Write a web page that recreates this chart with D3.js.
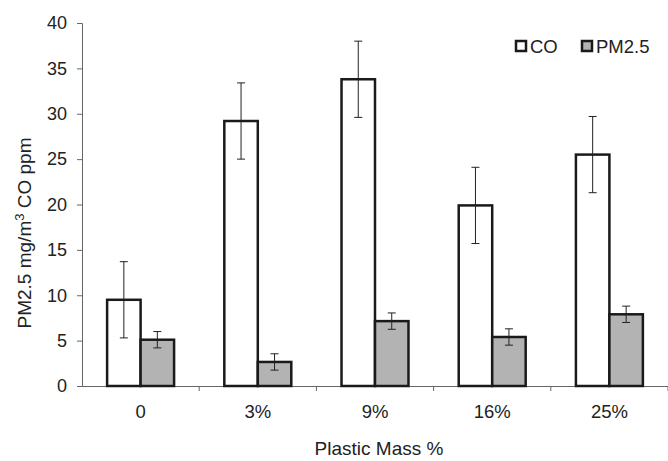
<!DOCTYPE html>
<html lang="en">
<head>
  <meta charset="UTF-8">
  <title>Plastic Mass</title>
  <style>
    html, body { margin: 0; background: #fff; }
    svg text { font-family: "Liberation Sans", Arial, sans-serif; fill: #222; }
  </style>
</head>
<body>
  <div id="main"></div>
  <script src="https://cdn.jsdelivr.net/npm/d3@7/dist/d3.min.js"></script>
  <script>
    // data
    const categories = ['0', '3%', '9%', '16%', '25%']
    const seriesNames = ['CO', 'PM2.5']
    const coValues = [9.5, 29.2, 33.8, 19.9, 25.5]
    const coErrors = [4.2, 4.2, 4.2, 4.2, 4.2]
    const pmValues = [5.1, 2.65, 7.15, 5.4, 7.9]
    const pmErrors = [0.9, 0.9, 0.9, 0.9, 0.9]
    const yTicks = [0, 5, 10, 15, 20, 25, 30, 35, 40]

    const width = 668, height = 461
    const margin = { top: 23, right: 0, bottom: 75, left: 82 }
    const fills = ['#ffffff', '#b3b3b3']

    const svg = d3.select('#main').append('svg')
      .attr('width', width).attr('height', height)

    const x = d3.scaleBand().domain(categories)
      .range([margin.left, width - margin.right])
    const inner = d3.scaleBand().domain(seriesNames)
      .range([0, x.bandwidth()]).paddingOuter(0.75).paddingInner(0)
    const y = d3.scaleLinear().domain([0, 40])
      .range([height - margin.bottom, margin.top])

    // y axis
    const yAxis = svg.append('g')
      .attr('transform', `translate(${margin.left},0)`)
      .call(d3.axisLeft(y).tickValues(yTicks).tickSize(5).tickPadding(10))
    yAxis.select('.domain').attr('stroke', '#666')
    yAxis.selectAll('.tick line').attr('stroke', '#666')
    yAxis.selectAll('text').style('font-size', '18px')

    // x axis, ticks between categories
    const xAxis = svg.append('g')
      .attr('transform', `translate(0,${y(0)})`)
      .call(d3.axisBottom(x).tickSize(0).tickPadding(0))
    xAxis.select('.domain').attr('stroke', '#666')
    xAxis.selectAll('text')
      .attr('dy', null).attr('y', 32)
      .style('font-size', '18.5px')
    xAxis.selectAll('.sep')
      .data(categories)
      .join('line')
      .attr('class', 'sep')
      .attr('x1', d => x(d) + x.bandwidth()).attr('x2', d => x(d) + x.bandwidth())
      .attr('y1', 0).attr('y2', 5)
      .attr('stroke', '#666')

    const rows = categories.map((c, i) => ({
      cat: c,
      vals: [
        { s: 'CO', v: coValues[i], e: coErrors[i], k: 0 },
        { s: 'PM2.5', v: pmValues[i], e: pmErrors[i], k: 1 }
      ]
    }))

    const groups = svg.append('g').selectAll('g')
      .data(rows)
      .join('g')
      .attr('transform', d => `translate(${x(d.cat)},0)`)

    groups.selectAll('rect')
      .data(d => d.vals)
      .join('rect')
      .attr('x', d => inner(d.s))
      .attr('y', d => y(d.v))
      .attr('width', inner.bandwidth())
      .attr('height', d => y(0) - y(d.v))
      .attr('fill', d => fills[d.k])
      .attr('stroke', '#1a1a1a')
      .attr('stroke-width', 2.5)

    // error bars
    const err = groups.selectAll('g.err')
      .data(d => d.vals)
      .join('g')
      .attr('class', 'err')
      .attr('stroke', '#222')
      .attr('stroke-width', 1)
    err.append('line')
      .attr('x1', d => inner(d.s) + inner.bandwidth() / 2)
      .attr('x2', d => inner(d.s) + inner.bandwidth() / 2)
      .attr('y1', d => y(d.v + d.e)).attr('y2', d => y(d.v - d.e))
    err.selectAll('line.cap')
      .data(d => [d.v + d.e, d.v - d.e].map(v => ({ cx: inner(d.s) + inner.bandwidth() / 2, v })))
      .join('line')
      .attr('class', 'cap')
      .attr('x1', d => d.cx - 4).attr('x2', d => d.cx + 4)
      .attr('y1', d => y(d.v)).attr('y2', d => y(d.v))

    // legend
    const legendX = [515, 581]
    const legend = svg.append('g').selectAll('g')
      .data(seriesNames)
      .join('g')
      .attr('transform', (d, i) => `translate(${legendX[i]},40)`)
    legend.append('rect')
      .attr('x', 1).attr('y', 1).attr('width', 10).attr('height', 10)
      .attr('fill', (d, i) => fills[i])
      .attr('stroke', '#1a1a1a').attr('stroke-width', 2.5)
    legend.append('text')
      .attr('x', 15).attr('y', 12.5)
      .style('font-size', '18.5px')
      .text(d => d)

    // axis titles
    svg.append('text')
      .attr('x', 379).attr('y', 455)
      .attr('text-anchor', 'middle')
      .style('font-size', '19px')
      .text('Plastic Mass %')

    const yt = svg.append('text')
      .attr('transform', 'translate(31,233) rotate(-90)')
      .attr('text-anchor', 'middle')
      .style('font-size', '19px')
    yt.append('tspan').text('PM2.5 mg/m')
    yt.append('tspan').attr('dy', -7).style('font-size', '13px').text('3')
    yt.append('tspan').attr('dy', 7).text(' CO ppm')
  </script>
</body>
</html>
